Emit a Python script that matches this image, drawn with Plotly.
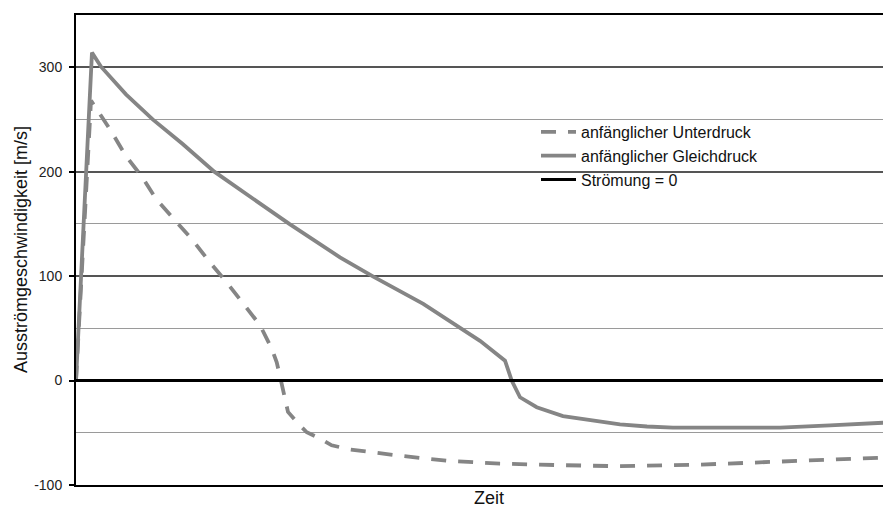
import plotly.graph_objects as go

# Zeit (arbitrary units, 0..100)
t_gleich = [0, 1.96, 3.07, 6.13, 9.41, 13.09, 16.97, 21.26, 26.17, 32.39, 36.48, 42.61,
            47.33, 49.57, 52.64, 53.46, 54.48, 56.53, 59.75, 63.07, 66.75, 70.06, 73.25,
            79.02, 86.38, 92.52, 100]
v_gleich = [0, 314, 300.5, 274, 250, 226.5, 200, 177, 150, 118, 99.5, 73.4,
            50, 38, 19, 0, -16, -25.5, -34, -38, -42, -44, -45,
            -45, -45, -43, -40]

t_unter = [0, 1.84, 2.70, 4.29, 6.13, 8.10, 9.82, 12.27, 14.36, 16.44, 18.49, 20.49,
           22.58, 24.01, 24.63, 25.15, 25.64, 26.01, 27.24, 28.31, 29.94, 31.37, 33.62,
           39.75, 45.89, 52.02, 59.39, 66.75, 76.56, 86.75, 100]
v_unter = [0, 268, 258, 239, 215, 195, 174, 153, 134, 113, 94, 74,
           53, 30.6, 17.5, 0, -19, -30, -41, -49.5, -55.5, -62, -66,
           -72, -77, -79.5, -81, -82, -80.5, -77.5, -73.5]

t_null = [0, 100]
v_null = [0, 0]

y_ticks = [-100, 0, 100, 200, 300]
y_ticktext = ["-100", "0", "100", "200", "300"]

FONT = "Liberation Sans, Arial, sans-serif"
GRAY = "#858585"

# page is shown with an 8px body margin -> figure is 8px smaller
W, H = 883, 499
ML, MR, MT, MB = 68, 0, 7, 22
PW, PH = W - ML - MR, H - MT - MB


def px(fx):
    return (fx - ML) / PW


def py(fy):
    return (H - MB - fy) / PH


fig = go.Figure()
fig.add_trace(go.Scatter(x=t_unter, y=v_unter, mode="lines", name="anfänglicher Unterdruck",
                         line=dict(color=GRAY, width=3.8, dash="15px,12px")))
fig.add_trace(go.Scatter(x=t_gleich, y=v_gleich, mode="lines", name="anfänglicher Gleichdruck",
                         line=dict(color=GRAY, width=3.8)))
fig.add_trace(go.Scatter(x=t_null, y=v_null, mode="lines", name="Strömung = 0",
                         line=dict(color="black", width=3)))

fig.update_layout(
    width=W, height=H,
    margin=dict(l=ML, r=MR, t=MT, b=MB, autoexpand=False),
    paper_bgcolor="white", plot_bgcolor="white",
    font=dict(family=FONT, size=14, color="#222"),
    showlegend=True,
    legend=dict(x=px(528), y=py(107), xanchor="left", yanchor="top",
                bgcolor="rgba(0,0,0,0)", borderwidth=0, font=dict(size=16, color="#111"),
                itemwidth=35, tracegroupgap=0),
    xaxis=dict(range=[0, 100], showticklabels=False, showgrid=False, zeroline=False,
               showline=True, linecolor="black", linewidth=2, mirror=True, ticks=""),
    yaxis=dict(range=[-100, 350], tickvals=y_ticks, ticktext=y_ticktext, ticks="outside",
               ticklen=5, tickcolor="black", tickwidth=1.5, showline=True, linecolor="black",
               linewidth=2, zeroline=False, showgrid=True, gridcolor="#555", gridwidth=1.5,
               tickfont=dict(size=14, color="#222"), ticklabelstandoff=4,
               minor=dict(tickvals=[-50, 50, 150, 250], showgrid=True, gridcolor="#9a9a9a",
                          gridwidth=1, ticks="")),
    shapes=[dict(type="rect", xref="paper", yref="paper", layer="between",
                 x0=px(530), x1=px(757), y0=py(187), y1=py(113),
                 fillcolor="white", line=dict(width=0))],
    annotations=[
        dict(text="Ausströmgeschwindigkeit [m/s]", xref="paper", yref="paper",
             x=px(13), y=0.5, xanchor="center", yanchor="middle",
             textangle=-90, showarrow=False, font=dict(size=18, color="#111")),
        dict(text="Zeit", xref="paper", yref="paper", x=px(481), y=py(490),
             xanchor="center", yanchor="middle", showarrow=False,
             font=dict(size=18, color="#111")),
    ],
)

fig.write_html("out.html")
